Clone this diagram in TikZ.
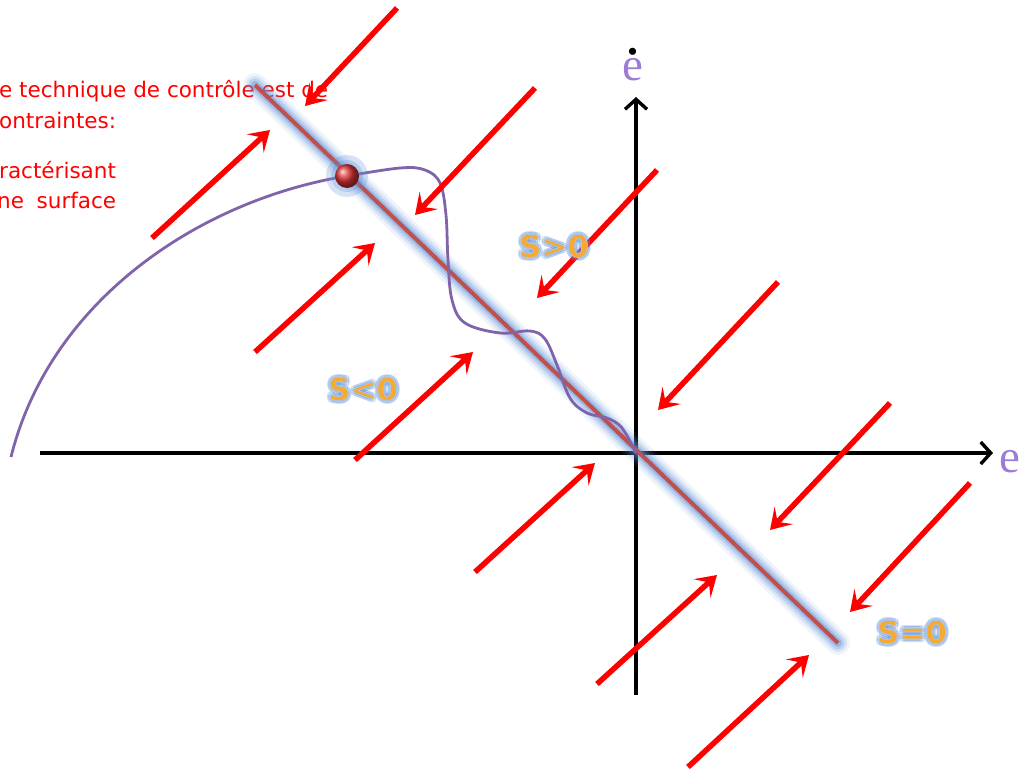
\documentclass[tikz,border=0pt]{standalone}
\usepackage{fontspec}
\newfontfamily\notefont{DejaVu Sans}
\newfontfamily\sfont{DejaVu Sans Bold}[FakeBold=2]
\newfontfamily\efont{Liberation Serif}
\usetikzlibrary{arrows.meta,calc}

\definecolor{arrowred}{RGB}{255,0,0}
\definecolor{slidered}{RGB}{192,80,77}
\definecolor{glowblue}{RGB}{95,145,215}
\definecolor{trajpurple}{RGB}{128,100,170}
\definecolor{axislab}{RGB}{155,125,215}
\definecolor{scolor}{RGB}{247,170,50}
\definecolor{ballred}{RGB}{220,50,50}

\tikzset{
  flow/.style={arrowred, line width=5.5pt, -{Stealth[length=20pt,width=25pt,inset=9pt]}},
  axis/.style={black, line width=3.4pt, -{Straight Barb[length=10pt,width=22pt]}},
  sname/.style={text=scolor, font=\sfont\fontsize{31}{31}\selectfont, inner sep=0pt},
  note/.style={text=arrowred, font=\notefont\fontsize{21.5}{21.5}\selectfont, anchor=base west, inner sep=0pt},
  elabel/.style={text=axislab, font=\efont\fontsize{47}{47}\selectfont, anchor=base, inner sep=0pt},
}

% S label with a soft blue halo
\newcommand\glowname[3]{%
  \foreach \a in {0,45,...,315}
    \node[sname, text=glowblue, opacity=.2] at ($(#2)+(\a:3)$) {#3};
  \node[sname] (#1) at (#2) {\special{pdf:literal direct 0.66 0.79 0.96 RG}#3};
}

\begin{document}
\begin{tikzpicture}[x=1pt,y=-1pt]
  \useasboundingbox (0,0) rectangle (1026,771);
  \clip (0,0) rectangle (1026,771);

  \coordinate (O) at (636,453);
  \coordinate (S1) at (255,85);
  \coordinate (S2) at (838,643);
  \coordinate (P) at (347,176);

  % axes
  \draw[axis] (40,453) -- (993,453);
  \draw[axis] (636,695) -- (636,97);
  \node[elabel] (ex) at (1010,472) {e};
  \node[elabel] (ey) at (633,80)
    {\makebox[0pt][l]{\hspace{0.07em}\raisebox{0.55em}{\textcolor{black}{\fontsize{60}{60}\selectfont.}}}e};

  % text
  \node[note] (l1) at (-1,97) {e technique de contrôle est de};
  \node[note] (l2) at (-1,128) {ontraintes:};
  \node[note] (l3) at (-1,178) {ractérisant};
  \node[note] (l4) at (-3,208) {\makebox[119pt][s]{ne\hfil surface}};

  % sliding surface S=0
  \foreach \w/\o in {24/.10, 18/.16, 13/.24, 8/.38}
    \draw[glowblue, line width=\w pt, opacity=\o, line cap=round] (S1) -- (S2);
  \draw[slidered, line width=4pt] (S1) -- (S2);

  % trajectory
  \draw[trajpurple, line width=2.8pt] (11,457) .. controls (50,300) and (200,200) .. (P);
  \draw[trajpurple, line width=2.8pt] plot[smooth, tension=0.6] coordinates {
    (P) (400,168) (425,170) (440,183) (446,215) (448,260) (452,300) (465,323)
    (500,333) (530,331) (545,339) (557,365) (570,398) (587,413) (607,418)
    (622,428) (636,453)};

  % reaching point
  \fill[glowblue, opacity=.25] (P) circle (21pt);
  \fill[glowblue, opacity=.25] (P) circle (16pt);
  \shade[ball color=ballred] (P) circle (12pt);

  % flow towards the surface
  \draw[flow] (397,8) -- (305,106);
  \draw[flow] (535,88) -- (415,215);
  \draw[flow] (657,170) -- (537,298);
  \draw[flow] (778,282) -- (658,410);
  \draw[flow] (890,403) -- (770,530);
  \draw[flow] (970,483) -- (850,612);
  \draw[flow] (152,238) -- (270,130);
  \draw[flow] (255,352) -- (375,243);
  \draw[flow] (355,460) -- (473,352);
  \draw[flow] (475,572) -- (595,463);
  \draw[flow] (597,684) -- (717,575);
  \draw[flow] (688,767) -- (809,655);

  % labels
  \glowname{spos}{554,246}{S>0}
  \glowname{sneg}{363,389}{S<0}
  \glowname{szero}{912,632}{S=0}
\end{tikzpicture}
\end{document}
